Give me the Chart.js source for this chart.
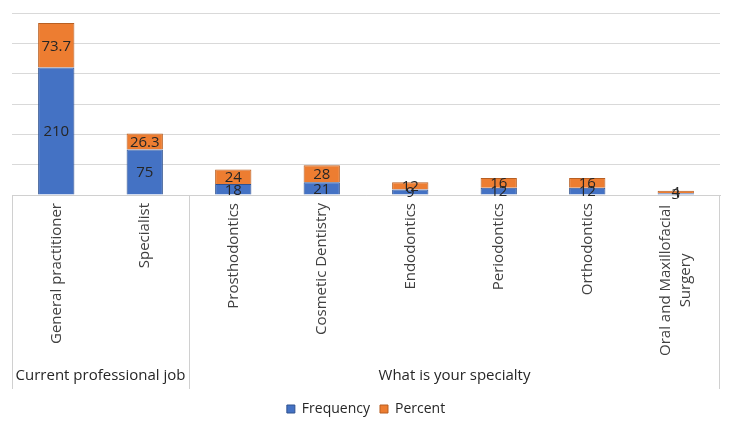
<!DOCTYPE html>
<html>
<head>
<meta charset="utf-8">
<script src="https://cdn.jsdelivr.net/npm/chart.js@4"></script>
<style>
  body { margin: 0; background: #fff; }
  #wrap { width: 731px; height: 426px; position: relative; }
</style>
</head>
<body>
<div id="wrap"><canvas id="columnChart"></canvas></div>
<script>
// Données
const categories = [
  'General practitioner', 'Specialist', 'Prosthodontics', 'Cosmetic Dentistry',
  'Endodontics', 'Periodontics', 'Orthodontics', ['Oral and Maxillofacial', 'Surgery']
];
const frequency = [210, 75, 18, 21, 9, 12, 12, 3];
const percent = [73.7, 26.3, 24, 28, 12, 16, 16, 4];
const groups = [
  { label: 'Current professional job', from: 0, to: 1 },
  { label: 'What is your specialty', from: 2, to: 7 }
];
const yTicks = [0, 50, 100, 150, 200, 250, 300];

const FONT = '"Open Sans", Lato, sans-serif';

// Étiquettes au centre de chaque segment
const valueLabels = {
  id: 'valueLabels',
  afterDatasetsDraw(chart) {
    const ctx = chart.ctx;
    ctx.save();
    ctx.font = '15px ' + FONT;
    ctx.fillStyle = '#262626';
    ctx.textAlign = 'center';
    ctx.textBaseline = 'middle';
    chart.data.datasets.forEach((ds, i) => {
      chart.getDatasetMeta(i).data.forEach((bar, j) => {
        ctx.fillText(String(ds.data[j]), bar.x, (bar.y + bar.base) / 2 + 1);
      });
    });
    ctx.restore();
  }
};

// Séparateurs, titres de groupes et libellés sur deux lignes (centrés)
const groupAxis = {
  id: 'groupAxis',
  afterDraw(chart) {
    const ctx = chart.ctx;
    const x = chart.scales.x;
    const top = chart.chartArea.bottom;
    const bottom = top + 194;
    const half = (x.getPixelForValue(1) - x.getPixelForValue(0)) / 2;
    ctx.save();
    ctx.strokeStyle = '#d0d0d0';
    ctx.lineWidth = 1;
    ctx.font = '15px ' + FONT;
    ctx.fillStyle = '#262626';
    ctx.textAlign = 'center';
    ctx.textBaseline = 'middle';
    groups.forEach((g, k) => {
      const left = x.getPixelForValue(g.from) - half;
      const right = x.getPixelForValue(g.to) + half;
      ctx.beginPath();
      ctx.moveTo(Math.round(left) + 0.5, top);
      ctx.lineTo(Math.round(left) + 0.5, bottom);
      if (k === groups.length - 1) {
        ctx.moveTo(Math.round(right) - 0.5, top);
        ctx.lineTo(Math.round(right) - 0.5, bottom);
      }
      ctx.stroke();
      ctx.fillText(g.label, (left + right) / 2, top + 181);
    });
    ctx.fillStyle = '#404040';
    categories.forEach((c, i) => {
      if (!Array.isArray(c)) return;
      const w = Math.max(...c.map(s => ctx.measureText(s).width));
      const cx = x.getPixelForValue(i);
      const cy = top + 10 + w / 2;
      ctx.save();
      ctx.translate(cx, cy);
      ctx.rotate(-Math.PI / 2);
      c.forEach((s, l) => ctx.fillText(s, 0, (l - (c.length - 1) / 2) * 20));
      ctx.restore();
    });
    ctx.restore();
  }
};

const ctx = document.getElementById('columnChart').getContext('2d');
const columnChart = new Chart(ctx, {
  type: 'bar',
  data: {
    labels: categories,
    datasets: [{
      label: 'Frequency',
      data: frequency,
      backgroundColor: '#4472C4',
      borderColor: '#2F528F',
      borderWidth: 1,
      categoryPercentage: 1,
      barPercentage: 0.41
    }, {
      label: 'Percent',
      data: percent,
      backgroundColor: '#ED7D31',
      borderColor: '#B85F22',
      borderWidth: 1,
      categoryPercentage: 1,
      barPercentage: 0.41
    }]
  },
  options: {
    responsive: true,
    maintainAspectRatio: false,
    animation: false,
    layout: { padding: { top: 13, left: 12, right: 11, bottom: 0 } },
    plugins: {
      legend: {
        position: 'bottom',
        labels: {
          boxWidth: 8,
          boxHeight: 8,
          padding: 10,
          color: '#262626',
          font: { family: FONT, size: 14 }
        }
      },
      tooltip: { enabled: false }
    },
    scales: {
      x: {
        stacked: true,
        grid: { display: false, drawTicks: false },
        border: { display: true, color: '#d0d0d0' },
        ticks: {
          minRotation: 90,
          maxRotation: 90,
          padding: 8,
          color: '#404040',
          font: { family: FONT, size: 15 },
          // les libellés sur deux lignes sont dessinés par groupAxis
          callback: (v, i) => Array.isArray(categories[i]) ? '' : categories[i]
        },
        afterFit(scale) { scale.height = 197; }
      },
      y: {
        stacked: true,
        min: 0,
        max: 300,
        afterBuildTicks(scale) { scale.ticks = yTicks.map(v => ({ value: v })); },
        grid: { color: '#d9d9d9', drawTicks: false },
        border: { display: false },
        ticks: { display: false },
        afterFit(scale) { scale.width = 0; }
      }
    }
  },
  plugins: [valueLabels, groupAxis]
});
</script>
</body>
</html>
